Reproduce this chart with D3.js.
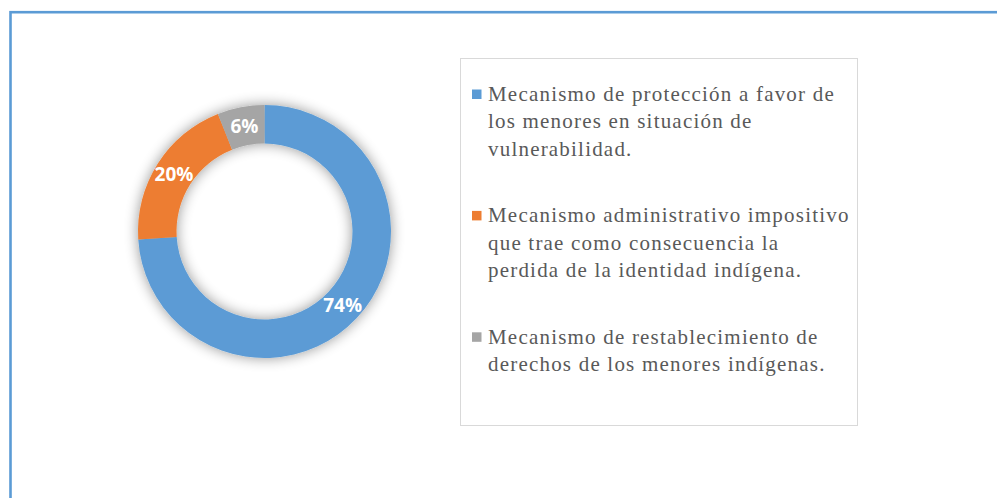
<!DOCTYPE html>
<html>
<head>
<meta charset="utf-8">
<script src="https://cdn.jsdelivr.net/npm/d3@7"></script>
<style>
  html, body { margin: 0; padding: 0; background: #fff; }
  svg { display: block; }
</style>
</head>
<body>
<div class="container"></div>
<script>
const WIDTH = 997,
    HEIGHT = 498,
    CX = 264.5,
    CY = 231.5,
    OUTER_R = 126.5,
    INNER_R = 88;

// chart data
const categories = [
    ['Mecanismo de protección a favor de', 'los menores en situación de', 'vulnerabilidad.'],
    ['Mecanismo administrativo impositivo', 'que trae como consecuencia la', 'perdida de la identidad indígena.'],
    ['Mecanismo de restablecimiento de', 'derechos de los menores indígenas.']
];
const values = [74, 20, 6];
const colors = ['#5B9BD5', '#ED7D31', '#A5A5A5'];

const LEGEND_X = 460.5,
    LEGEND_Y = 58.5,
    LEGEND_W = 397,
    LEGEND_H = 367,
    LINE_H = 27.3,
    ITEM_GAP = 39.5,
    FIRST_BASELINE = 101;

var svg = d3.select('.container').append('svg')
    .attr('width', WIDTH)
    .attr('height', HEIGHT);

var defs = svg.append('defs');
var shadow = defs.append('filter')
    .attr('id', 'glow')
    .attr('x', '-30%').attr('y', '-30%')
    .attr('width', '160%').attr('height', '160%');
shadow.append('feGaussianBlur')
    .attr('in', 'SourceAlpha')
    .attr('stdDeviation', 7)
    .attr('result', 'blur');
shadow.append('feComponentTransfer')
    .attr('in', 'blur')
    .attr('result', 'soft')
    .append('feFuncA').attr('type', 'linear').attr('slope', 0.42);
var merge = shadow.append('feMerge');
merge.append('feMergeNode').attr('in', 'soft');
merge.append('feMergeNode').attr('in', 'SourceGraphic');

// outer frame (only top and left visible)
svg.append('rect')
    .attr('x', 10.5)
    .attr('y', 12.2)
    .attr('width', WIDTH + 20)
    .attr('height', HEIGHT + 20)
    .attr('fill', 'none')
    .attr('stroke', '#5B9BD5')
    .attr('stroke-width', 2.6);

// donut
var pie = d3.pie().sort(null).value((d) => d);
var arc = d3.arc().innerRadius(INNER_R).outerRadius(OUTER_R);
var arcs = pie(values);

var donut = svg.append('g')
    .attr('transform', `translate(${CX},${CY})`);

donut.append('g')
    .attr('filter', 'url(#glow)')
    .selectAll('path')
    .data(arcs)
    .enter().append('path')
    .attr('d', arc)
    .attr('fill', (d, i) => colors[i]);

donut.selectAll('text')
    .data(arcs)
    .enter().append('text')
    .attr('transform', (d) => `translate(${arc.centroid(d)})`)
    .attr('text-anchor', 'middle')
    .attr('dy', '0.36em')
    .style('font-family', '"Open Sans", sans-serif')
    .style('font-weight', 700)
    .style('font-size', '19px')
    .style('fill', '#fff')
    .text((d) => d.data + '%');

// legend
svg.append('rect')
    .attr('x', LEGEND_X)
    .attr('y', LEGEND_Y)
    .attr('width', LEGEND_W)
    .attr('height', LEGEND_H)
    .attr('fill', '#fff')
    .attr('stroke', '#D9D9D9')
    .attr('stroke-width', 1);

var baselines = [];
categories.reduce((y, lines) => {
    baselines.push(y);
    return y + lines.length * LINE_H + ITEM_GAP;
}, FIRST_BASELINE);

var items = svg.append('g').selectAll('g')
    .data(categories)
    .enter().append('g')
    .attr('transform', (d, i) => `translate(0,${baselines[i]})`);

items.append('rect')
    .attr('x', 472)
    .attr('y', -11.5)
    .attr('width', 9.5)
    .attr('height', 9.5)
    .attr('fill', (d, i) => colors[i]);

items.append('text')
    .style('font-family', '"Liberation Serif", "Times New Roman", serif')
    .style('font-size', '21px')
    .style('letter-spacing', '1.2px')
    .style('fill', '#595959')
    .selectAll('tspan')
    .data((d) => d)
    .enter().append('tspan')
    .attr('x', 488)
    .attr('y', (d, i) => i * LINE_H)
    .text((d) => d);
</script>
</body>
</html>
